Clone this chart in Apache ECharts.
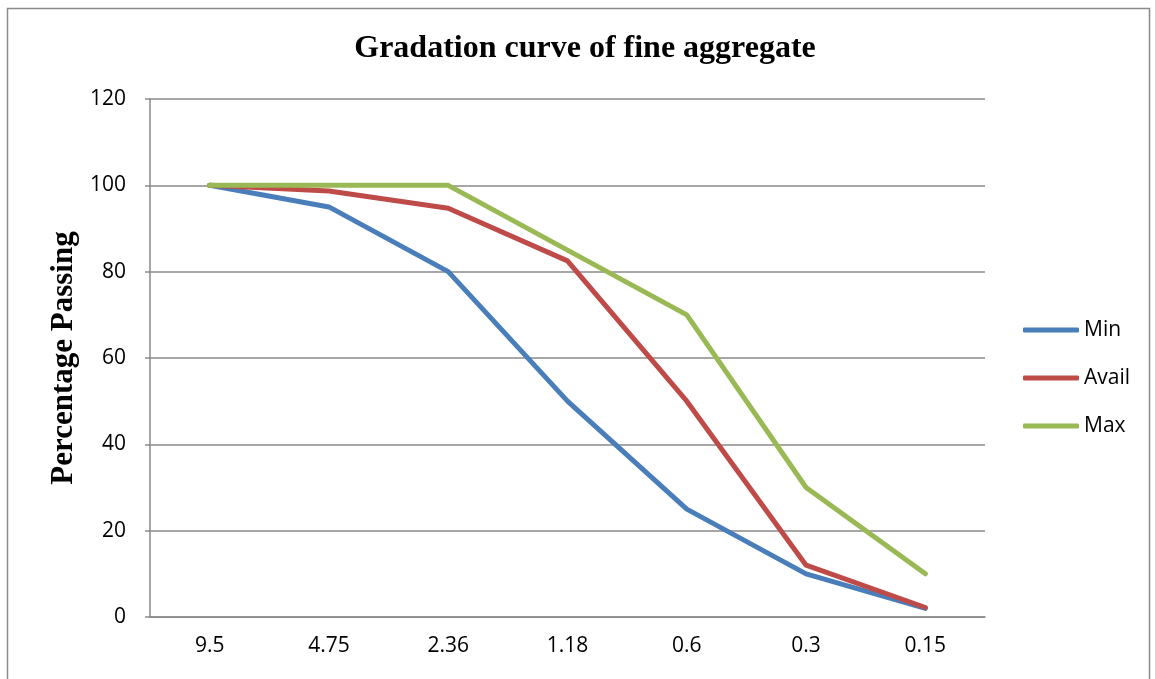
<!DOCTYPE html>
<html>
<head>
<meta charset="utf-8">
<script src="https://cdn.jsdelivr.net/npm/echarts@6/dist/echarts.min.js"></script>
<style>
  html, body { margin: 0; padding: 0; background: #fff; }
  #chart { width: 1155px; height: 679px; }
</style>
</head>
<body>
<div id="chart"></div>
<script>
// Sieve sizes (mm) and percentage passing for each gradation limit
const sieveSizes = ['9.5', '4.75', '2.36', '1.18', '0.6', '0.3', '0.15'];
const minPassing = [100, 95, 80, 50, 25, 10, 2];
const availPassing = [100, 98.7, 94.7, 82.5, 50, 12, 2.2];
const maxPassing = [100, 100, 100, 85, 70, 30, 10];
const yTicks = [0, 20, 40, 60, 80, 100, 120];

const chart = echarts.init(document.getElementById('chart'));

const lineSeries = (name, data, color) => ({
  name,
  type: 'line',
  data,
  symbol: 'none',
  lineStyle: { width: 5, color, cap: 'round', join: 'round' },
  itemStyle: { color },
  animation: false
});

chart.setOption({
  animation: false,
  backgroundColor: '#fff',
  title: {
    text: 'Gradation curve of fine aggregate',
    left: 580,
    textAlign: 'center',
    top: 28,
    textStyle: {
      fontFamily: 'Liberation Serif',
      fontWeight: 'bold',
      fontSize: 32,
      color: '#000'
    }
  },
  graphic: [{
    type: 'rect',
    shape: { x: 7.5, y: 8.5, width: 1142, height: 690 },
    style: { fill: 'none', stroke: '#8a8a8a', lineWidth: 1.5 },
    silent: true
  }],
  legend: {
    orient: 'vertical',
    left: 1018,
    top: 314,
    itemWidth: 56,
    itemHeight: 5,
    itemGap: 26,
    icon: 'roundRect',
    data: ['Min', 'Avail', 'Max'],
    textStyle: { fontFamily: 'Open Sans', fontSize: 21, color: '#000', lineHeight: 22 }
  },
  grid: { left: 150, right: 170, top: 99, bottom: 62, containLabel: false },
  xAxis: {
    type: 'category',
    data: sieveSizes,
    boundaryGap: true,
    axisLine: { lineStyle: { color: '#8a8a8a', width: 1.5 } },
    axisTick: { show: false },
    axisLabel: { fontFamily: 'Open Sans', fontSize: 21, color: '#000', margin: 19 }
  },
  yAxis: {
    type: 'value',
    min: yTicks[0],
    max: yTicks[yTicks.length - 1],
    interval: 20,
    name: 'Percentage Passing',
    nameLocation: 'middle',
    nameGap: 65,
    nameTextStyle: {
      fontFamily: 'Liberation Serif',
      fontWeight: 'bold',
      fontSize: 31,
      color: '#000'
    },
    axisLine: { show: true, lineStyle: { color: '#8a8a8a', width: 1.5 } },
    axisTick: { show: true, length: 5, lineStyle: { color: '#8a8a8a', width: 1.5 } },
    axisLabel: { fontFamily: 'Open Sans', fontSize: 21, color: '#000', margin: 24 },
    splitLine: { lineStyle: { color: '#8a8a8a', width: 1.5 } }
  },
  series: [
    lineSeries('Min', minPassing, '#4a7ebb'),
    lineSeries('Avail', availPassing, '#be4b48'),
    lineSeries('Max', maxPassing, '#98b954')
  ]
});
</script>
</body>
</html>
